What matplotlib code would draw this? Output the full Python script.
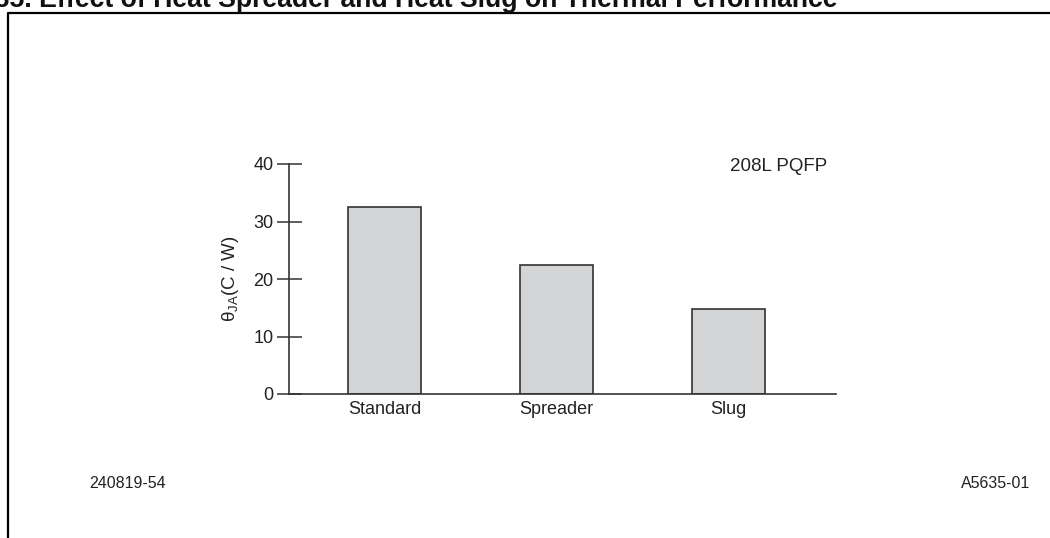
import matplotlib
matplotlib.use("Agg")
import matplotlib.pyplot as plt
from matplotlib.lines import Line2D

plt.rcParams['font.family'] = ['Liberation Sans', 'DejaVu Sans']

# Thermal resistance (junction-to-ambient) for a 208-lead PQFP
categories = ["Standard", "Spreader", "Slug"]
theta_ja = [32.5, 22.5, 14.8]
yticks = [0, 10, 20, 30, 40]

W, H = 1050, 538
fig = plt.figure(figsize=(W / 100, H / 100), dpi=100)
fig.patch.set_facecolor("white")

def fx(px):
    return px / W

def fy(py):
    return 1 - py / H

# Figure frame (open at the right and bottom)
fig.add_artist(Line2D([fx(8), fx(8), fx(1050)], [fy(540), fy(12.5), fy(12.5)],
                      color="black", lw=1.6, transform=fig.transFigure))

# Caption running off the top edge of the page
fig.text(fx(838), fy(7), "Figure 35. Effect of Heat Spreader and Heat Slug on Thermal Performance",
         ha="right", va="baseline", fontsize=19.2, fontweight="bold", color="#111111")

ax = fig.add_axes([fx(289), fy(394), fx(836) - fx(289), fy(164) - fy(394)])
x = list(range(len(categories)))
ax.bar(x, theta_ja, width=0.42, color="#d3d4d6", edgecolor="#333333", linewidth=1.2, zorder=2)

ax.set_xlim(-0.555, 2.625)
ax.set_ylim(0, 40)
ax.set_yticks(yticks)
ax.set_xticks(x)
ax.set_xticklabels(categories)

for s in ("top", "right"):
    ax.spines[s].set_visible(False)
for s in ("left", "bottom"):
    ax.spines[s].set_color("#333333")
    ax.spines[s].set_linewidth(1.2)

ax.tick_params(axis="y", direction="inout", length=18, width=1.1, color="#333333",
               labelsize=13, labelcolor="#222222", pad=2)
ax.tick_params(axis="x", length=0, labelsize=13, labelcolor="#222222", pad=5)

ax.set_ylabel(r"θ$_{\mathregular{JA}}$(C / W)", fontsize=13.5, color="#222222", labelpad=9)

fig.text(fx(779), fy(167), "208L PQFP", ha="center", va="center", fontsize=13.5, color="#222222")
fig.text(fx(89), fy(484), "240819-54", ha="left", va="center", fontsize=11.5, color="#222222")
fig.text(fx(1030), fy(484), "A5635-01", ha="right", va="center", fontsize=11.5, color="#222222")

fig.savefig("out.png", dpi=100, facecolor="white")
